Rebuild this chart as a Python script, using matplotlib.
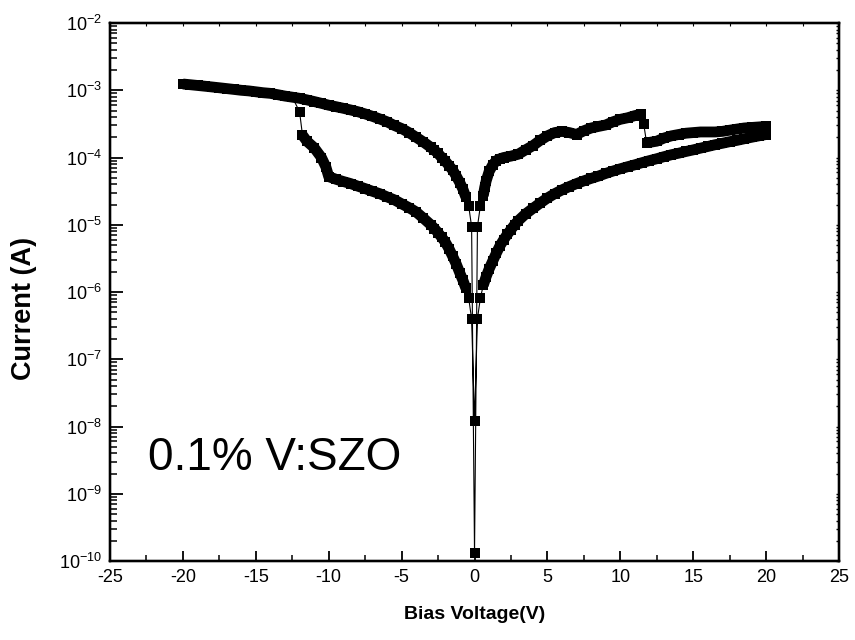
import numpy as np
import matplotlib
matplotlib.use("Agg")
import matplotlib.pyplot as plt
from matplotlib.ticker import MultipleLocator, LogLocator, NullFormatter

plt.rcParams['font.family'] = ['Liberation Sans', 'DejaVu Sans']
plt.rcParams['mathtext.fontset'] = 'custom'
plt.rcParams['mathtext.rm'] = 'Liberation Sans'
plt.rcParams['mathtext.it'] = 'Liberation Sans'
plt.rcParams['axes.unicode_minus'] = False

# sweep start at 0 V
v_start = [0.0]
i_start = [1.3e-10]

# 0 -> +20 V, low resistance state with reset near 11.6 V
v_lrs_pos = [0.2, 0.4, 0.6, 0.7, 0.8, 1.0, 1.25, 1.5, 1.75, 2.0, 2.5, 3.0, 3.5, 4.0, 4.5,
             5.0, 5.5, 6.0, 6.5, 7.0, 7.5, 8.0, 8.5, 9.0, 9.5, 10.0, 10.5, 11.0, 11.4,
             11.6, 11.8, 12.0, 12.5, 13.0, 13.5, 14.0, 14.5, 15.0, 15.5, 16.0, 16.5,
             17.0, 17.5, 18.0, 18.5, 19.0, 19.5, 20.0]
i_lrs_pos = [9.4e-6, 1.9e-5, 2.7e-5, 3.6e-5, 4.5e-5, 6.2e-5, 7.8e-5, 9.0e-5, 9.6e-5,
             1.0e-4, 1.05e-4, 1.12e-4, 1.3e-4, 1.5e-4, 1.8e-4, 2.1e-4, 2.35e-4, 2.45e-4,
             2.35e-4, 2.2e-4, 2.5e-4, 2.75e-4, 2.9e-4, 3.05e-4, 3.4e-4, 3.7e-4, 3.9e-4,
             4.2e-4, 4.4e-4, 3.2e-4, 1.67e-4, 1.68e-4, 1.75e-4, 1.95e-4, 2.1e-4, 2.2e-4,
             2.3e-4, 2.35e-4, 2.4e-4, 2.4e-4, 2.4e-4, 2.45e-4, 2.55e-4, 2.65e-4, 2.75e-4,
             2.8e-4, 2.85e-4, 2.9e-4]

# +20 -> 0 V, high resistance state
v_hrs_pos = [20.0, 19.5, 19.0, 18.5, 18.0, 17.5, 17.0, 16.5, 16.0, 15.5, 15.0, 14.5,
             14.0, 13.5, 13.0, 12.5, 12.0, 11.5, 11.0, 10.5, 10.0, 9.5, 9.0, 8.5, 8.0,
             7.5, 7.0, 6.5, 6.0, 5.5, 5.0, 4.5, 4.0, 3.5, 3.0, 2.75, 2.5, 2.25, 2.0,
             1.75, 1.5, 1.25, 1.0, 0.8, 0.6, 0.4, 0.2, 0.0]
i_hrs_pos = [2.2e-4, 2.1e-4, 2.0e-4, 1.9e-4, 1.8e-4, 1.72e-4, 1.63e-4, 1.55e-4, 1.46e-4,
             1.38e-4, 1.3e-4, 1.23e-4, 1.16e-4, 1.1e-4, 1.03e-4, 9.6e-5, 9.0e-5, 8.4e-5,
             7.8e-5, 7.3e-5, 6.8e-5, 6.3e-5, 5.8e-5, 5.3e-5, 4.9e-5, 4.5e-5, 4.1e-5,
             3.7e-5, 3.3e-5, 2.9e-5, 2.5e-5, 2.1e-5, 1.75e-5, 1.45e-5, 1.15e-5, 1.0e-5,
             8.5e-6, 7.2e-6, 6.0e-6, 4.9e-6, 3.8e-6, 2.9e-6, 2.2e-6, 1.7e-6, 1.26e-6,
             8.1e-7, 4.0e-7, 1.2e-8]

# 0 -> -12 V, high resistance state, set near -12 V
v_hrs_neg = [-0.2, -0.4, -0.6, -0.8, -1.0, -1.25, -1.5, -1.75, -2.0, -2.25, -2.5, -2.75,
             -3.0, -3.5, -4.0, -4.5, -5.0, -5.5, -6.0, -6.5, -7.0, -7.5, -8.0, -8.5,
             -9.0, -9.5, -10.0, -10.2, -10.5, -11.0, -11.5, -11.8, -12.0]
i_hrs_neg = [4.0e-7, 8.1e-7, 1.15e-6, 1.5e-6, 1.9e-6, 2.6e-6, 3.4e-6, 4.4e-6, 5.5e-6,
             6.5e-6, 7.6e-6, 8.8e-6, 1.0e-5, 1.25e-5, 1.55e-5, 1.8e-5, 2.05e-5, 2.35e-5,
             2.6e-5, 2.9e-5, 3.15e-5, 3.45e-5, 3.75e-5, 4.1e-5, 4.4e-5, 4.75e-5, 5.2e-5,
             7.3e-5, 1.0e-4, 1.4e-4, 1.75e-4, 2.15e-4, 4.8e-4]

# -20 -> 0 V, low resistance state
v_lrs_neg = [-20.0, -19.5, -19.0, -18.5, -18.0, -17.5, -17.0, -16.5, -16.0, -15.5,
             -15.0, -14.5, -14.0, -13.5, -13.0, -12.5, -12.0, -11.5, -11.0, -10.5,
             -10.0, -9.5, -9.0, -8.5, -8.0, -7.5, -7.0, -6.5, -6.0, -5.5, -5.0, -4.5,
             -4.0, -3.5, -3.0, -2.75, -2.5, -2.25, -2.0, -1.75, -1.5, -1.25, -1.0, -0.8,
             -0.6, -0.4, -0.2, 0.0]
i_lrs_neg = [1.24e-3, 1.21e-3, 1.18e-3, 1.15e-3, 1.12e-3, 1.09e-3, 1.06e-3, 1.03e-3,
             1.0e-3, 9.8e-4, 9.5e-4, 9.2e-4, 9.0e-4, 8.6e-4, 8.2e-4, 7.9e-4, 7.6e-4,
             7.2e-4, 6.8e-4, 6.4e-4, 6.0e-4, 5.7e-4, 5.4e-4, 5.1e-4, 4.8e-4, 4.45e-4,
             4.1e-4, 3.75e-4, 3.4e-4, 3.0e-4, 2.7e-4, 2.35e-4, 2.0e-4, 1.7e-4, 1.42e-4,
             1.28e-4, 1.15e-4, 1.0e-4, 8.8e-5, 7.6e-5, 6.5e-5, 5.3e-5, 4.2e-5, 3.4e-5,
             2.6e-5, 1.9e-5, 9.4e-6, 1.3e-10]

label_text = "0.1% V:SZO"

# forward part of the negative LRS (-12 -> -20) is the same band, walked backwards
v_neg_fwd = [v for v in v_lrs_neg if v < -12.0][::-1]
i_neg_fwd = [c for v, c in zip(v_lrs_neg, i_lrs_neg) if v < -12.0][::-1]

volts = np.concatenate([v_start, v_lrs_pos, v_hrs_pos, v_hrs_neg, v_neg_fwd, v_lrs_neg])
amps = np.concatenate([i_start, i_lrs_pos, i_hrs_pos, i_hrs_neg, i_neg_fwd, i_lrs_neg])

MS = 7.8

fig = plt.figure(figsize=(8.55, 6.4), dpi=100)
ax = fig.add_axes([0.1287, 0.1234, 0.8526, 0.8406])


def band(v, c, lo, hi):
    # the dense sweep points merge into one thick band in the original plot
    v = np.asarray(v)
    c = np.asarray(c)
    keep = (np.abs(v) >= lo) & (np.abs(v) <= hi)
    ax.plot(v[keep], c[keep], color='black', lw=MS, solid_joinstyle='round',
            solid_capstyle='butt')


band(v_lrs_pos, i_lrs_pos, 0.6, 11.4)
band(v_lrs_pos, i_lrs_pos, 11.8, 20.0)
band(v_hrs_pos, i_hrs_pos, 0.6, 20.0)
band(v_hrs_neg, i_hrs_neg, 0.6, 11.8)
band(v_lrs_neg, i_lrs_neg, 0.6, 20.0)

ax.plot(volts, amps, color='black', lw=0.8, marker='s', markersize=MS,
        markerfacecolor='black', markeredgecolor='black', markeredgewidth=0)

ax.set_yscale('log')
ax.set_xlim(-25, 25)
ax.set_ylim(1e-10, 1e-2)

ax.xaxis.set_major_locator(MultipleLocator(5))
ax.xaxis.set_minor_locator(MultipleLocator(2.5))
ax.yaxis.set_major_locator(LogLocator(base=10, numticks=20))
ax.yaxis.set_minor_locator(LogLocator(base=10, subs=np.arange(2, 10), numticks=20))
ax.yaxis.set_minor_formatter(NullFormatter())

ax.tick_params(axis='both', which='major', direction='in', length=9, width=1.3,
               labelsize=13, top=False, right=False, pad=6)
ax.tick_params(axis='both', which='minor', direction='in', length=5, width=1.1,
               top=False, right=False)
ax.tick_params(axis='x', which='major', length=7.5)
ax.tick_params(axis='x', which='minor', length=4)

# short mirrored ticks on the right and top
ax2 = ax.twinx()
ax2.set_yscale('log')
ax2.set_ylim(1e-10, 1e-2)
ax2.yaxis.set_major_locator(LogLocator(base=10, numticks=20))
ax2.yaxis.set_minor_locator(LogLocator(base=10, subs=np.arange(2, 10), numticks=20))
ax2.tick_params(axis='y', which='both', direction='in', length=2.5, width=1,
                labelright=False)
ax3 = ax.twiny()
ax3.set_xlim(-25, 25)
ax3.xaxis.set_major_locator(MultipleLocator(5))
ax3.xaxis.set_minor_locator(MultipleLocator(2.5))
ax3.tick_params(axis='x', which='both', direction='in', length=2, width=0.8,
                labeltop=False)

for a in (ax, ax2, ax3):
    for sp in a.spines.values():
        sp.set_linewidth(1.6)

ax.set_xlabel('Bias Voltage(V)', fontsize=14, fontweight='bold', labelpad=14)
ax.set_ylabel('Current (A)', fontsize=19.5, fontweight='bold', va='center')
ax.yaxis.set_label_coords(-0.118, 0.47)

ax.text(0.052, 0.169, label_text, transform=ax.transAxes, fontsize=33,
        ha='left', va='baseline')

fig.savefig('out.png', dpi=100)
